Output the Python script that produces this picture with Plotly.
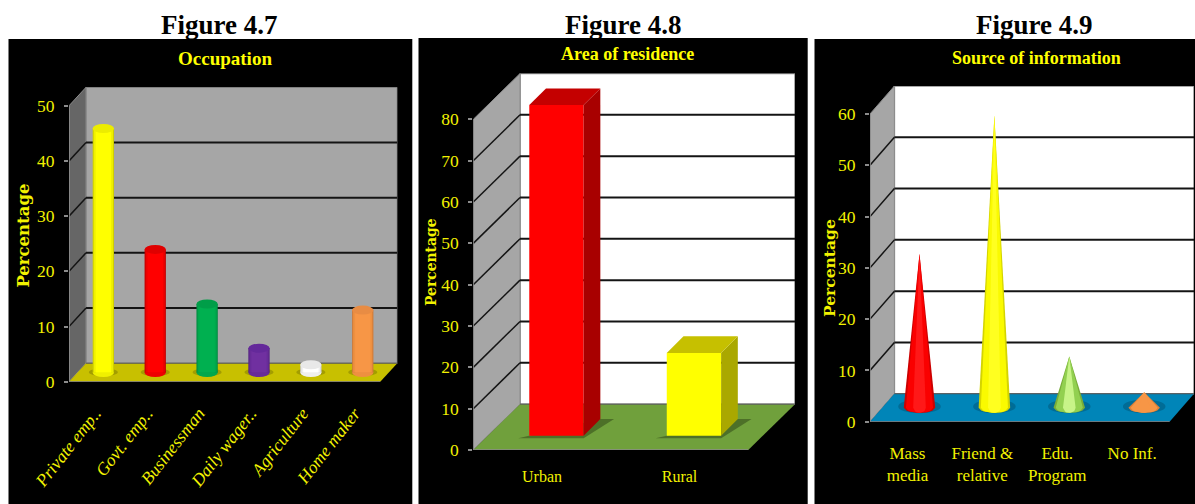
import plotly.graph_objects as go

W, H = 1195, 504

# ---- data -------------------------------------------------------------
figure_labels = ["Figure 4.7", "Figure 4.8", "Figure 4.9"]
chart_titles = ["Occupation", "Area of residence", "Source of information"]

occupation_labels = ["Private emp..", "Govt. emp..", "Businessman", "Daily wager..", "Agriculture", "Home maker"]
occupation_values = [44.2, 22.3, 12.4, 4.4, 1.4, 11.3]
occupation_ticks = [0, 10, 20, 30, 40, 50]

residence_labels = ["Urban", "Rural"]
residence_values = [80, 20]
residence_ticks = [0, 10, 20, 30, 40, 50, 60, 70, 80]

source_labels = ["Mass<br>media", "Friend &<br>relative", "Edu.<br>Program", "No Inf."]
source_values = [30, 57, 10, 3]
source_ticks = [0, 10, 20, 30, 40, 50, 60]

# ---- style ------------------------------------------------------------
YEL = "#ffff00"
SERIF = "Liberation Serif"
occ_layers = [
    ["#cfcf00", "#c00000", "#008a40", "#552482", "#cccccc", "#d07a38"],
    ["#f0f000", "#ee0000", "#00a84c", "#682c98", "#efefef", "#ee9040"],
    ["#ffff00", "#ff0000", "#00b050", "#7030a0", "#ffffff", "#f79646"],
]
occ_layer_w = [1.0, 0.9, 0.72]
occ_tops = ["#ecec00", "#e00000", "#009e48", "#64299a", "#e8e8e8", "#e88c44"]
res_front = ["#ff0000", "#ffff00"]
res_side = ["#a80000", "#aaa800"]
res_top = ["#c40000", "#c6c000"]
src_layers = [
    ["#cc0000", "#d4d400", "#78ac38", "#dc8038"],
    ["#fa0000", "#fafa00", "#92d050", "#f79646"],
    ["#ff1818", "#ffff20", "#c8f488", "#f79646"],
]
src_layer_w = [1.0, 0.86, 0.4]

shapes, annotations, traces = [], [], []


def px_x(p):
    return p / W


def px_y(p):
    return 1 - p / H


def panel(idx, n, ticks, depth, dx_units, wall, side, floor, grid_w=2):
    """Backdrop of a pseudo-3D chart, expressed in each subplot's data units."""
    s = "" if idx == 0 else str(idx + 1)
    xn, yn = "x" + s, "y" + s
    ymax = ticks[-1]
    L, R = -0.5, n - 0.5

    def poly(pts, color, line=None, lw=0):
        path = "M " + " L ".join(f"{a} {b}" for a, b in pts) + " Z"
        shapes.append(dict(type="path", path=path, xref=xn, yref=yn, fillcolor=color,
                           line=dict(color=line or color, width=lw), layer="below"))

    def seg(a, b, c, d, color, width):
        shapes.append(dict(type="line", x0=a, y0=b, x1=c, y1=d, xref=xn, yref=yn,
                           line=dict(color=color, width=width), layer="below"))

    top = ymax + depth
    poly([(L + dx_units, depth), (R + dx_units, depth), (R + dx_units, top), (L + dx_units, top)], wall, "#8c8c8c", 1.5)
    poly([(L, 0), (L + dx_units, depth), (L + dx_units, top), (L, ymax)], side, "#8c8c8c", 1)
    for t in ticks[1:]:
        if t != ymax:
            seg(L + dx_units, t + depth, R + dx_units, t + depth, "#141414", grid_w)
            seg(L, t, L + dx_units, t + depth, "#141414", 1.5)
    poly([(L, 0), (R, 0), (R + dx_units, depth), (L + dx_units, depth)], floor)
    seg(L, 0, R, 0, "#8c8c8c", 1.5)
    seg(L, 0, L, ymax, "#8c8c8c", 1.5)
    seg(L + dx_units, depth, R + dx_units, depth, "#555555", 1)
    return xn, yn


def axes(idx, n, ticks, labels, xdom, ydom, rng_x, rng_y, tick_font, std_x, angle=0, std_y=6):
    s = "" if idx == 0 else str(idx + 1)
    xa = dict(domain=xdom, range=rng_x, anchor="y" + s, tickmode="array", tickvals=list(range(n)),
              ticktext=labels, tickangle=angle, ticks="", showgrid=False, zeroline=False, showline=False,
              tickfont=tick_font, ticklabelstandoff=std_x, fixedrange=True)
    ya = dict(domain=ydom, range=rng_y, anchor="x" + s, tickmode="array", tickvals=ticks,
              ticks="outside", ticklen=4, tickcolor="#8c8c8c", tickwidth=1.5, showgrid=False, zeroline=False,
              showline=False, tickfont=dict(family=SERIF, size=17.5, color="#f2f200"),
              ticklabelstandoff=std_y, fixedrange=True)
    return {"xaxis" + s: xa, "yaxis" + s: ya}


layout_axes = {}

# ---- panel 1: cylinders -----------------------------------------------
n1 = len(occupation_values)
unit1 = 51.83
depth1, dxu1 = 3.35, 17 / unit1
xn, yn = panel(0, n1, occupation_ticks, depth1, dxu1, "#a6a6a6", "#666666", "#c8c000")
layout_axes.update(axes(0, n1, occupation_ticks, occupation_labels, [px_x(69), px_x(397.3)],
                        [px_y(381.7), px_y(87.3)], [-0.5, n1 - 0.5 + dxu1], [0, 50 + depth1],
                        dict(family=SERIF, size=17.5, color="#f2f200", style="italic"), 17, angle=-52))
shift1, w1, base1, e1 = 8.4 / unit1, 21.3 / unit1, depth1 / 2, 4.5 / 5.5
for i, v in enumerate(occupation_values):
    shapes.append(dict(type="circle", xref=xn, yref=yn, layer="below", fillcolor="#8a8600", opacity=0.6,
                       x0=i + shift1 - w1 * 0.68, x1=i + shift1 + w1 * 0.68, y0=base1 - e1 * 0.8, y1=base1 + e1 * 0.9,
                       line=dict(width=0)))
    shapes.append(dict(type="circle", xref=xn, yref=yn, layer="below", fillcolor=occ_layers[1][i],
                       x0=i + shift1 - w1 / 2, x1=i + shift1 + w1 / 2, y0=base1 - e1, y1=base1 + e1,
                       line=dict(width=0)))
    shapes.append(dict(type="circle", xref=xn, yref=yn, layer="above", fillcolor=occ_tops[i],
                       x0=i + shift1 - w1 / 2, x1=i + shift1 + w1 / 2, y0=v + base1 - e1, y1=v + base1 + e1,
                       line=dict(width=0)))
for colors, lw in zip(occ_layers, occ_layer_w):
    w = w1 * lw
    traces.append(go.Bar(x=list(range(n1)), y=occupation_values, base=base1, width=w, offset=shift1 - w / 2,
                         marker=dict(color=colors, line=dict(width=0)), xaxis="x", yaxis="y",
                         showlegend=False, cliponaxis=False, hoverinfo="skip"))

# ---- panel 2: boxes ---------------------------------------------------
n2 = len(residence_values)
unit2 = 137.35
depth2, dxu2 = 11.1, 46.7 / unit2
xn, yn = panel(1, n2, residence_ticks, depth2, dxu2, "#ffffff", "#a6a6a6", "#70a03c")
layout_axes.update(axes(1, n2, residence_ticks, residence_labels, [px_x(473.3), px_x(795)],
                        [px_y(450), px_y(73.5)], [-0.5, n2 - 0.5 + dxu2], [0, 80 + depth2],
                        dict(family=SERIF, size=16, color="#f2f200"), 15))
shift2, w2, base2 = 14.4 / unit2, 54.3 / unit2, 3.46
ddx, ddy = 16.7 / unit2, 4.04
for i, v in enumerate(residence_values):
    xl, xr = i + shift2 - w2 / 2, i + shift2 + w2 / 2
    sp = [(xl - 0.08, base2 - 0.6), (xr, base2 - 0.6), (xr + ddx + 0.1, base2 + ddy), (xr + ddx, base2 + ddy)]
    shapes.append(dict(type="path", path="M " + " L ".join(f"{a} {b}" for a, b in sp) + " Z", xref=xn, yref=yn,
                       fillcolor="#4d7028", line=dict(width=0), layer="below"))
traces.append(go.Bar(x=list(range(n2)), y=residence_values, base=base2, width=w2, offset=shift2 - w2 / 2,
                     marker=dict(color=res_front, line=dict(width=0)), xaxis="x2", yaxis="y2",
                     showlegend=False, cliponaxis=False, hoverinfo="skip"))
for i, v in enumerate(residence_values):
    xl, xr = i + shift2 - w2 / 2, i + shift2 + w2 / 2
    t = v + base2
    traces.append(go.Scatter(x=[xr, xr + ddx, xr + ddx, xr, xr], y=[base2, base2 + ddy, t + ddy, t, base2],
                             mode="lines", fill="toself", fillcolor=res_side[i], line=dict(width=0),
                             xaxis="x2", yaxis="y2", showlegend=False, hoverinfo="skip"))
    traces.append(go.Scatter(x=[xl, xr, xr + ddx, xl + ddx, xl], y=[t, t, t + ddy, t + ddy, t],
                             mode="lines", fill="toself", fillcolor=res_top[i], line=dict(width=0),
                             xaxis="x2", yaxis="y2", showlegend=False, hoverinfo="skip"))

# ---- panel 3: cones ---------------------------------------------------
n3 = len(source_values)
unit3 = 74.6
depth3, dxu3 = 5.45, 24.3 / unit3
xn, yn = panel(2, n3, source_ticks, depth3, dxu3, "#ffffff", "#a6a6a6", "#0085b8")
layout_axes.update(axes(2, n3, source_ticks, source_labels, [px_x(870), px_x(1194)],
                        [px_y(421.7), px_y(86)], [-0.5, n3 - 0.5 + dxu3], [0, 60 + depth3],
                        dict(family=SERIF, size=17, color="#f2f200"), 19))
shift3, rx3, base3, e3 = 12 / unit3, 15.7 / unit3, depth3 / 2, 1.0
arc = [k / 12 for k in range(13)]
for i, v in enumerate(source_values):
    shapes.append(dict(type="circle", xref=xn, yref=yn, layer="below", fillcolor="#00587a", opacity=0.55,
                       x0=i + shift3 - rx3 * 1.35, x1=i + shift3 + rx3 * 1.35, y0=base3 - e3 * 1.1, y1=base3 + e3 * 1.6,
                       line=dict(width=0)))
    for colors, lw in zip(src_layers, src_layer_w):
        r = rx3 * lw
        xs, ys = [i + shift3 - r], [base3]
        for a in arc[1:-1]:
            t = 2 * a - 1
            xs.append(i + shift3 + r * t)
            ys.append(base3 - e3 * (1 - t * t) ** 0.5)
        xs += [i + shift3 + r, i + shift3, i + shift3 - r]
        ys += [base3, v + base3, base3]
        traces.append(go.Scatter(x=xs, y=ys, mode="lines", fill="toself", fillcolor=colors[i],
                                 line=dict(width=0), xaxis="x3", yaxis="y3", showlegend=False, hoverinfo="skip"))

# ---- black panels, headings -------------------------------------------
panels_px = [(8.5, 412.3, 39), (418.5, 807.7, 38), (814.5, 1195, 39)]
for a, b, top in panels_px:
    shapes.insert(0, dict(type="rect", xref="paper", yref="paper", x0=px_x(a), x1=px_x(b), y0=0, y1=px_y(top),
                          fillcolor="#000000", line=dict(width=0), layer="below"))


def note(text, x, y, size, color, family=SERIF, angle=0):
    annotations.append(dict(text=f"<b>{text}</b>", x=px_x(x), y=px_y(y), xref="paper", yref="paper",
                            xanchor="center", yanchor="middle", showarrow=False, textangle=angle,
                            font=dict(family=family, size=size, color=color)))


for t, x in zip(figure_labels, [219, 623.7, 1034]):
    note(t, x, 24.5, 27, "#000000")
for t, x, y, size in zip(chart_titles, [225, 627.7, 1036.7], [58, 54, 58], [19, 18, 18]):
    note(t, x, y, size, YEL)
for x, y, size in [(22.6, 236, 16.5), (431, 262, 13.9), (829, 268, 15.5)]:
    note("Percentage", x, y, size, "#f2f200", family="DejaVu Serif", angle=-90)

fig = go.Figure(traces)
fig.update_layout(width=W, height=H, margin=dict(l=0, r=0, t=0, b=0, autoexpand=False), autosize=False,
                  paper_bgcolor="#ffffff", plot_bgcolor="rgba(0,0,0,0)", barmode="overlay",
                  shapes=shapes, annotations=annotations, **layout_axes)
fig.write_html("out.html", post_script="document.body.style.margin='0';document.body.style.overflow='hidden';",
               config=dict(displayModeBar=False))
